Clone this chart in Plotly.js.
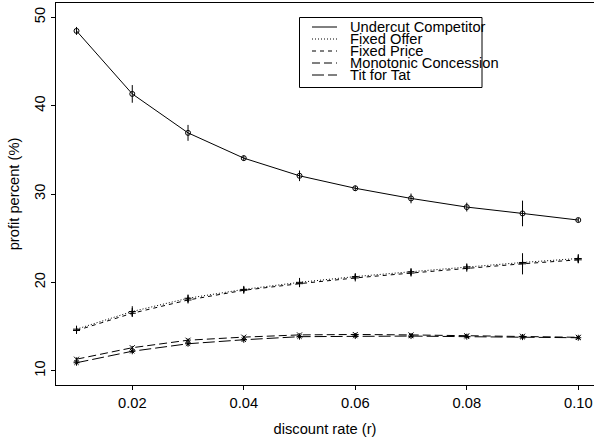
<!DOCTYPE html>
<html>
<head>
<meta charset="utf-8">
<script src="https://cdn.plot.ly/plotly-3.0.1.min.js"></script>
<style>html,body{margin:0;padding:0;background:#fff;}#chart{width:594px;height:437px;}</style>
</head>
<body>
<div id="chart"></div>
<script>
// ---- data ----
const rates = [0.01, 0.02, 0.03, 0.04, 0.05, 0.06, 0.07, 0.08, 0.09, 0.10];
const xTicks = [0.02, 0.04, 0.06, 0.08, 0.10];
const xTickLabels = ["0.02", "0.04", "0.06", "0.08", "0.10"];
const yTicks = [10, 20, 30, 40, 50];

const seriesNames = ["Undercut Competitor", "Fixed Offer", "Fixed Price", "Monotonic Concession", "Tit for Tat"];
const undercut    = [48.46, 41.33, 36.92, 34.06, 32.06, 30.65, 29.50, 28.52, 27.80, 27.05];
const undercutErr = [0.45, 1.0, 0.9, 0.3, 0.6, 0.3, 0.55, 0.5, 1.45, 0.25];
const fixedOffer    = [14.70, 16.70, 18.20, 19.20, 20.00, 20.65, 21.20, 21.75, 22.25, 22.70];
const fixedOfferErr = [0.3, 0.6, 0.4, 0.3, 0.5, 0.3, 0.35, 0.3, 0.3, 0.5];
const fixedPrice    = [14.55, 16.50, 18.00, 19.10, 19.85, 20.50, 21.05, 21.60, 22.10, 22.55];
const fixedPriceErr = [0.2, 0.3, 0.3, 0.2, 0.3, 0.2, 0.3, 0.2, 1.2, 0.3];
const monotonic    = [11.30, 12.60, 13.45, 13.80, 14.05, 14.10, 14.05, 13.95, 13.90, 13.78];
const monotonicErr = [0.2, 0.2, 0.2, 0.15, 0.15, 0.15, 0.15, 0.15, 0.25, 0.1];
const titForTat    = [10.90, 12.20, 13.05, 13.50, 13.85, 13.92, 13.92, 13.85, 13.80, 13.73];
const titForTatErr = [0.2, 0.2, 0.2, 0.15, 0.15, 0.15, 0.15, 0.15, 0.2, 0.1];

// ---- styles ----
const FONT = "Liberation Sans, Arial, Helvetica, sans-serif";
const FS = 14.7;
const dashes = ["solid", "1px,2px", "4px,4px", "8px,4px", "12px,4px"];
const symbols = ["circle-open", "cross-thin-open", "cross-thin-open", "x-thin-open", "asterisk-open"];
const values = [undercut, fixedOffer, fixedPrice, monotonic, titForTat];
const errors = [undercutErr, fixedOfferErr, fixedPriceErr, monotonicErr, titForTatErr];

const traces = values.map((v, i) => ({
  type: "scatter",
  mode: "lines+markers",
  name: seriesNames[i],
  x: rates,
  y: v,
  line: {color: "#000", width: 1, dash: dashes[i]},
  marker: {symbol: symbols[i], size: 5, color: "#000", line: {color: "#000", width: 1}},
  error_y: {type: "data", array: errors[i], visible: true, color: "#000", thickness: 1, width: 0},
  showlegend: false
}));

// plot area geometry (pixels)
const W = 594, H = 437, L = 56, R = 0, T = 3, B = 52;
const pw = W - L - R, ph = H - T - B;
const px = x => (x - L) / pw;
const py = y => (H - B - y) / ph;

const shapes = [];
const annotations = [];
// legend box
shapes.push({type: "rect", xref: "paper", yref: "paper",
  x0: px(299.5), x1: px(482), y0: py(87.5), y1: py(17.5),
  line: {color: "#000", width: 1}, fillcolor: "rgba(0,0,0,0)"});
seriesNames.forEach((n, i) => {
  const yy = 27 + 12 * i;
  shapes.push({type: "line", xref: "paper", yref: "paper",
    x0: px(312), x1: px(337), y0: py(yy), y1: py(yy),
    line: {color: "#000", width: 1, dash: dashes[i]}});
  annotations.push({xref: "paper", yref: "paper", x: px(348), y: py(yy),
    xanchor: "left", yanchor: "middle", text: n, showarrow: false,
    font: {family: FONT, size: FS, color: "#000"}});
});

const layout = {
  width: W, height: H,
  margin: {l: L, r: R, t: T, b: B, pad: 0},
  paper_bgcolor: "#fff", plot_bgcolor: "#fff",
  font: {family: FONT, size: FS, color: "#000"},
  showlegend: false,
  xaxis: {
    range: [0.00632, 0.10282],
    tickvals: xTicks, ticktext: xTickLabels,
    ticks: "outside", ticklen: 4, tickwidth: 1, tickcolor: "#000",
    showline: true, linecolor: "#000", linewidth: 1, mirror: true,
    showgrid: false, zeroline: false,
    tickfont: {family: FONT, size: FS},
    title: {text: "discount rate (r)", font: {family: FONT, size: FS}, standoff: 15}
  },
  yaxis: {
    range: [8.38, 51.62],
    tickvals: yTicks,
    ticks: "outside", ticklen: 4, tickwidth: 1, tickcolor: "#000",
    tickangle: -90,
    showline: true, linecolor: "#000", linewidth: 1, mirror: false,
    showgrid: false, zeroline: false,
    tickfont: {family: FONT, size: FS},
    title: {text: "profit percent (%)", font: {family: FONT, size: FS}, standoff: 8}
  },
  shapes: shapes,
  annotations: annotations
};

Plotly.newPlot("chart", traces, layout, {staticPlot: true, displayModeBar: false});
</script>
</body>
</html>
